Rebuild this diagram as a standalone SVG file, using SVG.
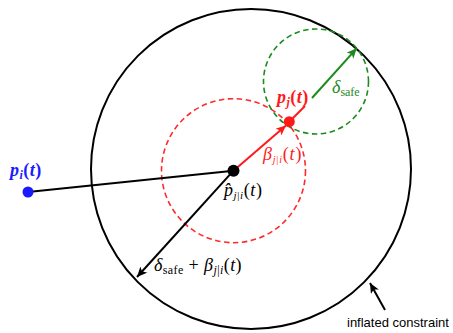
<svg xmlns="http://www.w3.org/2000/svg" width="453" height="333" viewBox="0 0 453 333">
<style>
.m{font-family:"Liberation Serif","DejaVu Serif",serif;font-size:18px;font-style:italic}
.u{font-style:normal}
.s{font-size:12px}
.lbl{font-family:"Liberation Sans",Arial,sans-serif;font-size:13px}
.dash{fill:none;stroke-width:1.6;stroke-dasharray:5.5 3.5}
</style>
<defs>
<marker id="ak" markerUnits="userSpaceOnUse" markerWidth="11" markerHeight="9" refX="10" refY="4.5" orient="auto"><path d="M0,0 L10,4.5 L0,9 L2.5,4.5 z" fill="#000"/></marker>
<marker id="ar" markerUnits="userSpaceOnUse" markerWidth="11" markerHeight="9" refX="10" refY="4.5" orient="auto"><path d="M0,0 L10,4.5 L0,9 L2.5,4.5 z" fill="#ff1a1a"/></marker>
<marker id="ag" markerUnits="userSpaceOnUse" markerWidth="11" markerHeight="9" refX="10" refY="4.5" orient="auto"><path d="M0,0 L10,4.5 L0,9 L2.5,4.5 z" fill="#1e8a1e"/></marker>
</defs>
<rect width="453" height="333" fill="#fff"/>
<g id="inflated-constraint"><circle cx="251" cy="169" r="160" fill="none" stroke="#000" stroke-width="2"/></g>
<g id="beta-circle"><circle class="dash" cx="233.5" cy="170.7" r="72" stroke="#ff2a2a"/></g>
<g id="safe-circle"><circle class="dash" cx="316" cy="81.5" r="52.5" stroke="#1e8a1e"/></g>
<g id="connectors">
<line x1="28" y1="192" x2="233.5" y2="170.7" stroke="#000" stroke-width="2"/>
<line x1="233.5" y1="170.7" x2="137" y2="277" stroke="#000" stroke-width="2" marker-end="url(#ak)"/>
<line x1="233.5" y1="170.7" x2="286" y2="125.5" stroke="#ff1a1a" stroke-width="2" marker-end="url(#ar)"/>
<line x1="289.3" y1="121.7" x2="305" y2="106" stroke="#ff1a1a" stroke-width="2"/>
<line x1="312" y1="98" x2="356.7" y2="48.3" stroke="#1e8a1e" stroke-width="2" marker-end="url(#ag)"/>
<line x1="385" y1="310" x2="370" y2="283" stroke="#000" stroke-width="2" marker-end="url(#ak)"/>
</g>
<g id="node-pi"><circle cx="28" cy="192" r="5.5" fill="#1a1aff"/>
<text class="m" x="10" y="176" fill="#1a1aff" font-weight="bold" letter-spacing="0.5">p<tspan class="s" dy="3">i</tspan><tspan class="u" dy="-3">(</tspan>t<tspan class="u">)</tspan></text></g>
<g id="node-phat"><circle cx="233.5" cy="170.7" r="6" fill="#000"/>
<text class="m" x="224" y="196" font-size="16" letter-spacing="0.6">p̂<tspan font-size="11" dy="3">j</tspan><tspan class="u" font-size="11">|</tspan><tspan font-size="11">i</tspan><tspan class="u" dy="-3">(</tspan>t<tspan class="u">)</tspan></text></g>
<g id="node-pj"><circle cx="289.3" cy="121.7" r="5.5" fill="#ff1a1a"/>
<text class="m" x="277" y="103" fill="#ff1a1a" font-weight="bold" letter-spacing="0.5">p<tspan class="s" dy="3">j</tspan><tspan class="u" dy="-3">(</tspan>t<tspan class="u">)</tspan></text></g>
<text class="m" x="263" y="160" fill="#ff1a1a" font-size="15" letter-spacing="0.8">β<tspan font-size="10" dy="3">j</tspan><tspan class="u" font-size="10">|</tspan><tspan font-size="10">i</tspan><tspan class="u" dy="-3">(</tspan>t<tspan class="u">)</tspan></text>
<text class="m" x="332" y="93" fill="#1e8a1e">δ<tspan class="s u" dy="3">safe</tspan></text>
<text class="m" x="154" y="271" fill="#000" letter-spacing="0.4">δ<tspan class="s u" dy="3">safe</tspan><tspan class="u" dy="-3"> + </tspan>β<tspan class="s" dy="3">j</tspan><tspan class="s u">|</tspan><tspan class="s">i</tspan><tspan class="u" dy="-3">(</tspan>t<tspan class="u">)</tspan></text>
<text class="lbl" x="347" y="327">inflated constraint</text>
</svg>
